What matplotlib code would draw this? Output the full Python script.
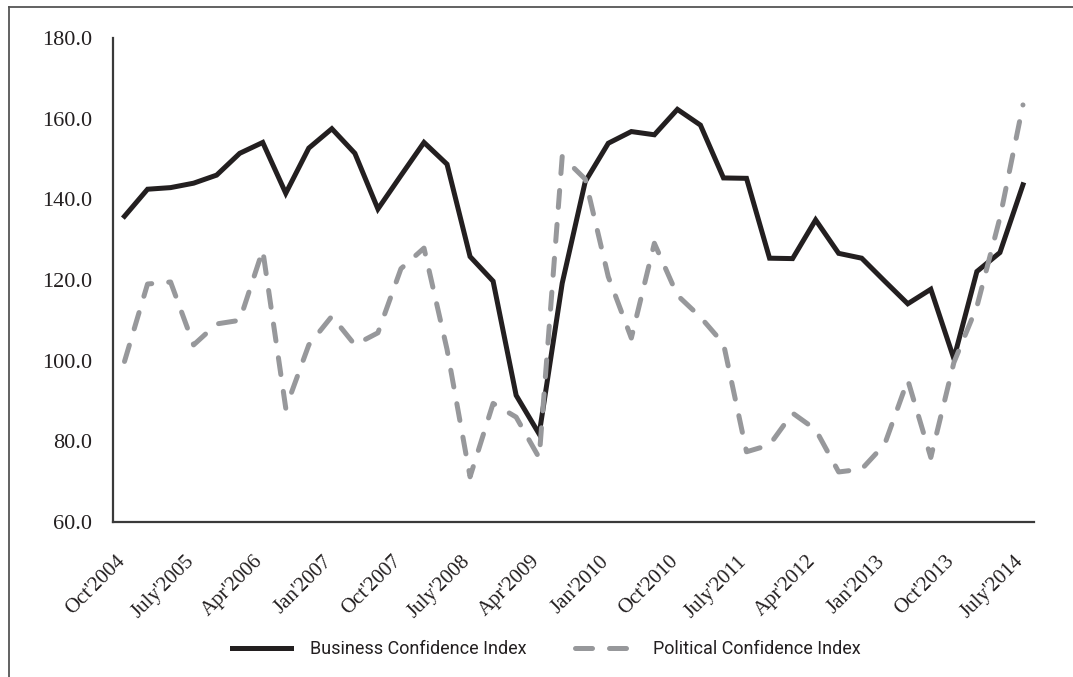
import matplotlib
matplotlib.use("Agg")
import matplotlib.pyplot as plt
from matplotlib.lines import Line2D
from matplotlib.transforms import ScaledTranslation

# quarterly readings, Oct 2004 .. July 2014
quarters = ["Oct'2004", "Jan'2005", "Apr'2005", "July'2005", "Oct'2005", "Jan'2006",
            "Apr'2006", "July'2006", "Oct'2006", "Jan'2007", "Apr'2007", "July'2007",
            "Oct'2007", "Jan'2008", "Apr'2008", "July'2008", "Oct'2008", "Jan'2009",
            "Apr'2009", "July'2009", "Oct'2009", "Jan'2010", "Apr'2010", "July'2010",
            "Oct'2010", "Jan'2011", "Apr'2011", "July'2011", "Oct'2011", "Jan'2012",
            "Apr'2012", "July'2012", "Oct'2012", "Jan'2013", "Apr'2013", "July'2013",
            "Oct'2013", "Jan'2014", "Apr'2014", "July'2014"]

business = [135.8, 142.5, 142.9, 144.0, 146.0, 151.4, 154.1, 141.5, 152.7, 157.5,
            151.4, 137.6, 145.9, 154.1, 148.7, 125.8, 119.7, 91.4, 81.8, 119.2,
            144.4, 153.9, 156.8, 156.0, 162.3, 158.4, 145.3, 145.2, 125.4, 125.3,
            134.9, 126.6, 125.4, 119.7, 114.1, 117.7, 100.5, 122.1, 126.8, 143.6]

political = [99.8, 119.0, 119.5, 103.9, 109.1, 110.0, 127.4, 88.2, 103.9, 111.0,
             103.9, 106.9, 122.8, 127.9, 102.8, 71.2, 89.4, 86.0, 75.9, 150.6,
             145.0, 120.8, 105.6, 129.1, 116.2, 110.8, 104.2, 77.4, 79.1, 87.0,
             82.9, 72.4, 73.1, 79.3, 95.2, 76.0, 99.5, 113.4, 135.4, 163.4]

series_names = ["Business Confidence Index", "Political Confidence Index"]
yticks = [60, 80, 100, 120, 140, 160, 180]

fig = plt.figure(figsize=(10.73, 6.77), dpi=100)
ax = fig.add_axes([0.1053, 0.2290, 0.8588, 0.7149])

x = list(range(len(quarters)))
ax.plot(x, business, color="#231f20", linewidth=3.6, solid_joinstyle="miter",
        label=series_names[0])
ax.plot(x, political, color="#97989b", linewidth=3.6, dashes=(3.4, 3.4),
        dash_capstyle="round", label=series_names[1])

ax.set_xlim(-0.5, len(quarters) - 0.5)
ax.set_ylim(60, 180)
ax.set_yticks(yticks)
ax.set_yticklabels([f"{v:.1f}" for v in yticks], family="Liberation Serif",
                   fontsize=16, color="#231f20")
ax.set_xticks(x[::3])
ax.set_xticklabels(quarters[::3], family="Liberation Serif", fontsize=15,
                   color="#231f20", rotation=45, ha="right", va="top",
                   rotation_mode="anchor")
ax.tick_params(axis="y", length=0, pad=15)
ax.tick_params(axis="x", length=0, pad=18)

# nudge the slanted labels so their ends sit under the points
shift = ScaledTranslation(-0.09, -0.05, fig.dpi_scale_trans)
for lab in ax.get_xticklabels():
    lab.set_transform(lab.get_transform() + shift)

for side in ("top", "right"):
    ax.spines[side].set_visible(False)
for side in ("left", "bottom"):
    ax.spines[side].set_color("#3a3a3a")
    ax.spines[side].set_linewidth(1.6)

leg = fig.legend(loc="center", bbox_to_anchor=(0.509, 0.041), ncol=2, frameon=False,
                 handlelength=3.3, columnspacing=2.65, handletextpad=1.05,
                 prop={"family": ["Roboto", "DejaVu Sans"], "size": 13})
for t in leg.get_texts():
    t.set_color("#231f20")

# frame edges of the pasted figure (only top and left show)
fig.add_artist(Line2D([0.0084, 1.0], [0.9897, 0.9897], color="#555555", linewidth=1.3))
fig.add_artist(Line2D([0.0084, 0.0084], [0.0, 0.9897], color="#555555", linewidth=1.3))

fig.savefig("out.png", dpi=100)
